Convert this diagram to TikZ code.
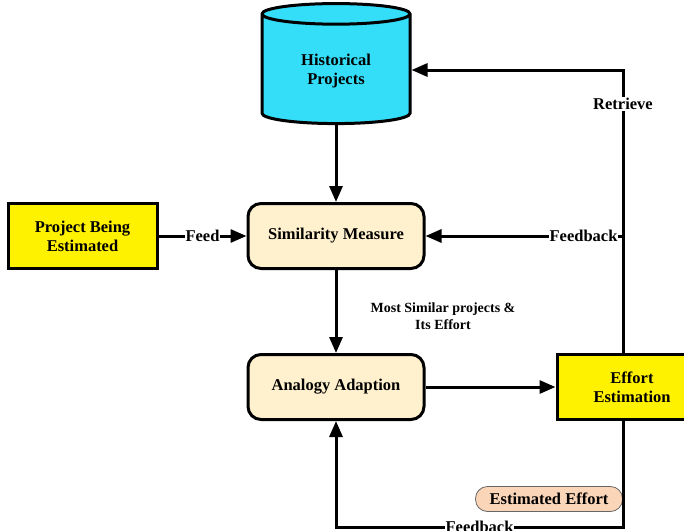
\documentclass[tikz,border=0pt]{standalone}
\usepackage{fontspec}
\setmainfont{Liberation Serif}
\usetikzlibrary{arrows.meta,shapes.geometric,positioning}
\definecolor{dbcyan}{RGB}{53,222,248}
\definecolor{cream}{RGB}{255,241,206}
\definecolor{peach}{RGB}{251,213,183}
\tikzset{
  boxfont/.style={font=\fontsize{16.5}{19}\selectfont\bfseries},
  proc/.style={draw, line width=3pt, rounded corners=13pt, fill=cream,
    minimum width=176pt, minimum height=65pt, align=center, boxfont},
  io/.style={draw, line width=3pt, fill=yellow, minimum height=65pt,
    align=center, boxfont},
  db/.style={draw, line width=3pt, fill=dbcyan, cylinder, shape border rotate=90,
    aspect=0.27, minimum width=148pt, minimum height=120pt, align=center, boxfont},
  pill/.style={draw=black!60, line width=0.8pt, fill=peach, rounded corners=12pt,
    minimum width=147pt, minimum height=25pt, boxfont},
  flow/.style={line width=3pt, -{Triangle[length=16pt,width=13pt]}},
  lbl/.style={fill=white, inner sep=1pt, boxfont}
}
\begin{document}
\begin{tikzpicture}[x=1pt,y=-1pt]
  \useasboundingbox (0,0) rectangle (684,530);

  \node[db] (hist) at (336,71) {Historical\\Projects};
  \node[proc] (sim) at (336,236) {Similarity Measure};
  \node[proc] (ana) at (336,387) {Analogy Adaption};
  \node[io, minimum width=149pt] (proj) at (82.5,236) {Project Being\\Estimated};
  \node[io, minimum width=150pt] (eff) at (632,387) {Effort\\Estimation};
  \node[pill] (est) at (549,499) {Estimated Effort};
  \node[align=center, font=\fontsize{14}{16.5}\selectfont\bfseries] (msp) at (443,316)
    {Most Similar projects \&\\Its Effort};

  \coordinate (rt) at (623,70);
  \coordinate (fb) at (623,236);
  \coordinate (bt) at (623,527);
  \coordinate (bl) at (336,527);

  \draw[flow] (hist) -- (sim);
  \draw[flow] (proj) -- node[lbl] (feed) {Feed} (sim);
  \draw[flow] (sim) -- (ana);
  \draw[flow] (ana) -- (eff);
  \draw[flow] (eff.north -| rt) -- (rt) -- (rt -| hist.east);
  \node[lbl] (retr) at (623,104) {Retrieve};
  \draw[flow] (fb) -- node[lbl, pos=0.2] (fbtop) {Feedback} (sim.east);
  \draw[flow] (eff.south -| bt) -- (bt) -- node[lbl] (fbbot) {Feedback} (bl) -- (ana.south);
\end{tikzpicture}
\end{document}
